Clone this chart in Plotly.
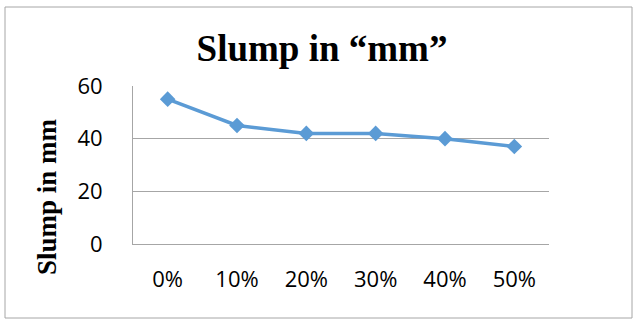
import plotly.graph_objects as go

categories = ["0%", "10%", "20%", "30%", "40%", "50%"]
slump = [55, 45, 42, 42, 40, 37]
y_ticks = [0, 20, 40, 60]

L, R, T, B = 133, 88, 86, 81
W, H = 637, 325
pw, ph = W - L - R, H - T - B

fig = go.Figure()
fig.add_trace(go.Scatter(
    x=categories, y=slump, mode="lines+markers",
    line=dict(color="#5B9BD5", width=3.5),
    marker=dict(symbol="diamond", size=12, color="#5B9BD5"),
    showlegend=False, cliponaxis=False,
))

def px_x(p):
    return (p - L) / pw

def px_y(p):
    return (H - B - p) / ph

fig.update_layout(
    width=W, height=H,
    margin=dict(l=L, r=R, t=T, b=B),
    paper_bgcolor="white", plot_bgcolor="white",
    title=dict(text="Slump in “mm”", x=322 / W, xanchor="center", y=1 - 48 / H, yanchor="middle",
               font=dict(family="Liberation Serif", size=37, color="black", weight="bold")),
    xaxis=dict(type="category", range=[-0.5, 5.5], showgrid=False, showline=True,
               linecolor="#A6A6A6", linewidth=1, ticks="", zeroline=False,
               tickfont=dict(family="Open Sans", size=22, color="black"), ticklabelstandoff=16),
    yaxis=dict(range=[0, 60], tickvals=y_ticks, showgrid=True, gridcolor="#A6A6A6", gridwidth=1,
               showline=True, linecolor="#A6A6A6", linewidth=1, ticks="", zeroline=False,
               tickfont=dict(family="Open Sans", size=22, color="black"), ticklabelstandoff=25),
    annotations=[dict(text="<b>Slump in mm</b>", textangle=-90, xref="paper", yref="paper",
                      x=px_x(47), y=px_y(197), xanchor="center", yanchor="middle", showarrow=False,
                      font=dict(family="Liberation Serif", size=27, color="black"))],
    shapes=[dict(type="rect", xref="paper", yref="paper",
                 x0=px_x(5), x1=px_x(632), y0=px_y(318), y1=px_y(7),
                 line=dict(color="#A6A6A6", width=1), fillcolor="rgba(0,0,0,0)", layer="below")],
)
fig.write_html("out.html", config={"displayModeBar": False},
               post_script="document.body.style.margin='0';")
